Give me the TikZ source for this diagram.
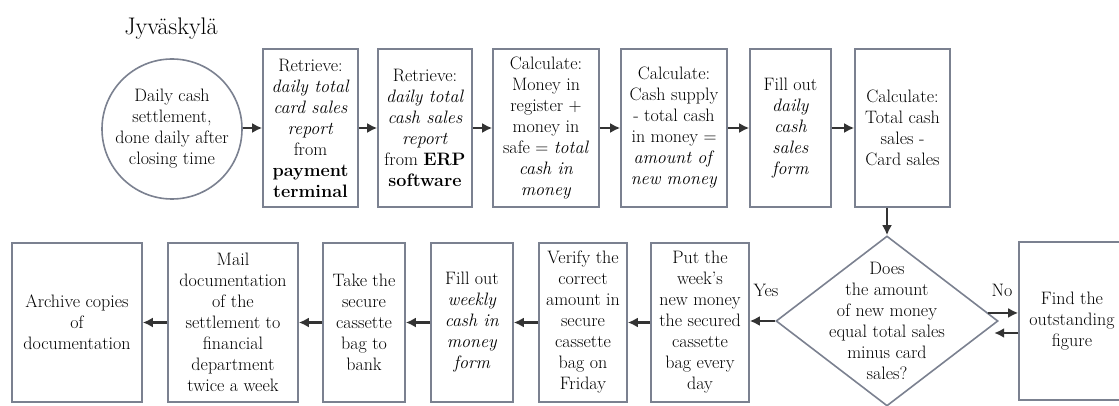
\documentclass[tikz,border=0pt]{standalone}
\usetikzlibrary{arrows.meta,shapes.geometric,calc}
\definecolor{boxline}{HTML}{7B8190}
\definecolor{arrowline}{HTML}{333333}
\tikzset{
    box/.style={draw=boxline,line width=1.6pt,fill=white,align=center,inner sep=0pt,
        font=\fontsize{18}{21}\selectfont},
    arr/.style={draw=arrowline,line width=2.3pt,-{Latex[length=10pt,width=10pt]}},
    lbl/.style={font=\fontsize{18}{21}\selectfont,inner sep=0pt}
}
\begin{document}
\begin{tikzpicture}[x=1pt,y=-1pt]
    \useasboundingbox[fill=white] (0,0) rectangle (1119,406);
    \clip (0,0) rectangle (1119,406);
    \node[lbl,font=\fontsize{24}{28}\selectfont] (title) at (171,29) {Jyväskylä};
    % daily settlement, top row
    \node[box,circle,minimum size=140pt] (start) at (172,129)
        {Daily cash\\settlement,\\done daily after\\closing time};
    \node[box,minimum width=95pt,minimum height=158pt] (card) at (310.5,128)
        {Retrieve:\\\textit{daily total}\\\textit{card sales}\\\textit{report}\\from\\\textbf{payment}\\\textbf{terminal}};
    \node[box,minimum width=94pt,minimum height=158pt] (erp) at (425,128)
        {Retrieve:\\\textit{daily total}\\\textit{cash sales}\\\textit{report}\\from \textbf{ERP}\\\textbf{software}};
    \node[box,minimum width=106pt,minimum height=158pt] (total) at (546,128)
        {Calculate:\\Money in\\register +\\money in\\safe = \textit{total}\\\textit{cash in}\\\textit{money}};
    \node[box,minimum width=106pt,minimum height=158pt] (newmoney) at (674,128)
        {Calculate:\\Cash supply\\- total cash\\in money =\\\textit{amount of}\\\textit{new money}};
    \node[box,minimum width=81pt,minimum height=158pt] (dform) at (790.5,128)
        {Fill out\\\textit{daily}\\\textit{cash}\\\textit{sales}\\\textit{form}};
    \node[box,minimum width=95pt,minimum height=158pt] (diff) at (902.5,128)
        {Calculate:\\Total cash\\sales -\\Card sales};
    % check
    \node[draw=boxline,line width=1.6pt,fill=white,diamond,minimum width=222pt,
        minimum height=170pt,inner sep=0pt] (check) at (887,321) {};
    \node[lbl,align=center] (q) at (check)
        {Does\\the amount\\of new money\\equal total sales\\minus card\\sales?};
    \node[box,minimum width=106pt,minimum height=158pt] (find) at (1072,321)
        {Find the\\outstanding\\figure};
    % weekly, bottom row
    \node[box,minimum width=98pt,minimum height=159pt] (put) at (700,322.5)
        {Put the\\week’s\\new money\\the secured\\cassette\\bag every\\day};
    \node[box,minimum width=88pt,minimum height=159pt] (verify) at (583,322.5)
        {Verify the\\correct\\amount in\\secure\\cassette\\bag on\\Friday};
    \node[box,minimum width=82pt,minimum height=159pt] (wform) at (472,322.5)
        {Fill out\\\textit{weekly}\\\textit{cash in}\\\textit{money}\\\textit{form}};
    \node[box,minimum width=82pt,minimum height=159pt] (bank) at (364,322.5)
        {Take the\\secure\\cassette\\bag to\\bank};
    \node[box,minimum width=130pt,minimum height=159pt] (mail) at (233,322.5)
        {Mail\\documentation\\of the\\settlement to\\financial\\department\\twice a week};
    \node[box,minimum width=130pt,minimum height=159pt] (archive) at (77,322.5)
        {Archive copies\\of\\documentation};
    \foreach \a/\b in {start/card,card/erp,erp/total,total/newmoney,newmoney/dform,dform/diff}
    \draw[arr] (\a.east|-\b.west) -- (\b.west);
    \draw[arr] (diff.south-|check.north) -- (check.north);
    \draw[arr] (check.west) -- (put.east|-check.west);
    \foreach \a/\b in {put/verify,verify/wform,wform/bank,bank/mail,mail/archive}
    \draw[arr] (\a.west) -- (\b.east);
    \draw[arr] ($(check.east)!.094!(check.north)$) coordinate (no) -- (no-|find.west);
    \draw[arr] ([yshift=-12pt]find.west) coordinate (back) -- ([xshift=-24pt]back);
    \node[lbl] (yes) at (766,290) {Yes};
    \node[lbl] (nolbl) at (1002,290) {No};
\end{tikzpicture}
\end{document}
